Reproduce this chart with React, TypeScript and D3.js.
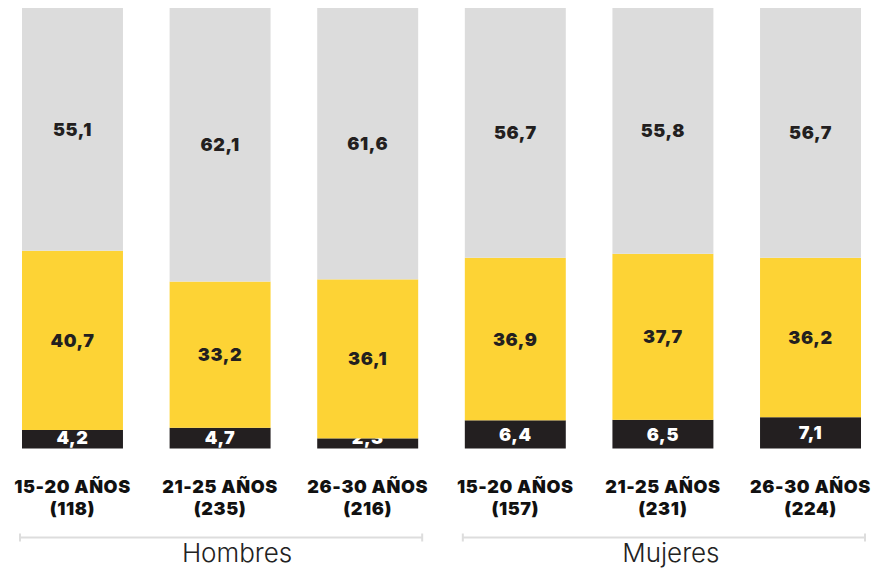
import React, { useEffect, useRef } from "react";
import * as d3 from "d3";

const categories = [
  "15-20 AÑOS|(118)",
  "21-25 AÑOS|(235)",
  "26-30 AÑOS|(216)",
  "15-20 AÑOS|(157)",
  "21-25 AÑOS|(231)",
  "26-30 AÑOS|(224)",
];
const bottomValues = [4.2, 4.7, 2.3, 6.4, 6.5, 7.1];
const middleValues = [40.7, 33.2, 36.1, 36.9, 37.7, 36.2];
const topValues = [55.1, 62.1, 61.6, 56.7, 55.8, 56.7];
const groups = ["Hombres", "Mujeres"];

const fmt = (v: number) => v.toFixed(1).replace(".", ",");

const App: React.FC = () => {
  const ref = useRef<SVGSVGElement>(null);

  useEffect(() => {
    drawChart();
  }, []);

  const drawChart = () => {
    const width = 872;
    const height = 568;
    const svg = d3.select(ref.current);
    svg.selectAll("*").remove();
    svg.attr("width", width).attr("height", height);

    const font = "Inter, 'Open Sans', sans-serif";

    const x = d3
      .scaleBand()
      .domain(categories)
      .range([22, 861])
      .paddingInner(0.316)
      .paddingOuter(0);

    const y = d3.scaleLinear().domain([0, 100]).range([448.5, 8]);

    const series = [
      { key: "bottom", values: bottomValues, fill: "#231f20", text: "#ffffff" },
      { key: "middle", values: middleValues, fill: "#fdd335", text: "#231f20" },
      { key: "top", values: topValues, fill: "#dcdcdc", text: "#231f20" },
    ];

    // Stacked bars
    categories.forEach((cat, i) => {
      let base = 0;
      series.forEach((s) => {
        const v = s.values[i];
        const y0 = y(base);
        const y1 = y(base + v);
        svg
          .append("rect")
          .attr("x", x(cat)!)
          .attr("y", y1)
          .attr("width", x.bandwidth())
          .attr("height", y0 - y1)
          .attr("fill", s.fill);

        let cy = (y0 + y1) / 2;
        if (s.key === "bottom") cy = Math.min(cy, y0 - 11);
        svg
          .append("text")
          .attr("x", x(cat)! + x.bandwidth() / 2)
          .attr("y", cy + 6.5)
          .attr("text-anchor", "middle")
          .attr("font-family", font)
          .attr("font-weight", 900)
          .attr("font-size", 18)
          .attr("letter-spacing", 0.6)
          .attr("fill", s.text)
          .text(fmt(v));
        base += v;
      });
    });

    // Category labels
    categories.forEach((cat) => {
      const [l1, l2] = cat.split("|");
      const cx = x(cat)! + x.bandwidth() / 2;
      const t = svg
        .append("text")
        .attr("x", cx)
        .attr("y", 493)
        .attr("text-anchor", "middle")
        .attr("font-family", font)
        .attr("font-weight", 900)
        .attr("font-size", 18)
        .attr("letter-spacing", 0.6)
        .attr("fill", "#111");
      t.append("tspan").attr("x", cx).text(l1);
      t.append("tspan").attr("x", cx).attr("dy", 22).text(l2);
    });

    // Group brackets
    groups.forEach((g, gi) => {
      const first = categories[gi * 3];
      const last = categories[gi * 3 + 2];
      const x0 = x(first)! - 2;
      const x1 = x(last)! + x.bandwidth() + 4;
      const ly = 537.5;
      svg
        .append("line")
        .attr("x1", x0)
        .attr("x2", x1)
        .attr("y1", ly)
        .attr("y2", ly)
        .attr("stroke", "#dddddd")
        .attr("stroke-width", 2);
      [x0, x1].forEach((xx) => {
        svg
          .append("line")
          .attr("x1", xx)
          .attr("x2", xx)
          .attr("y1", ly - 4)
          .attr("y2", ly + 4)
          .attr("stroke", "#dddddd")
          .attr("stroke-width", 2);
      });
      svg
        .append("text")
        .attr("x", (x0 + x1) / 2 + (gi === 0 ? 16 : 7))
        .attr("y", 562)
        .attr("text-anchor", "middle")
        .attr("font-family", font)
        .attr("font-weight", 300)
        .attr("font-size", 26)
        .attr("fill", "#222")
        .text(g);
    });
  };

  return (
    <svg
      ref={ref}
      style={{ position: "absolute", left: 0, top: 0, display: "block" }}
    ></svg>
  );
};

export default App;
